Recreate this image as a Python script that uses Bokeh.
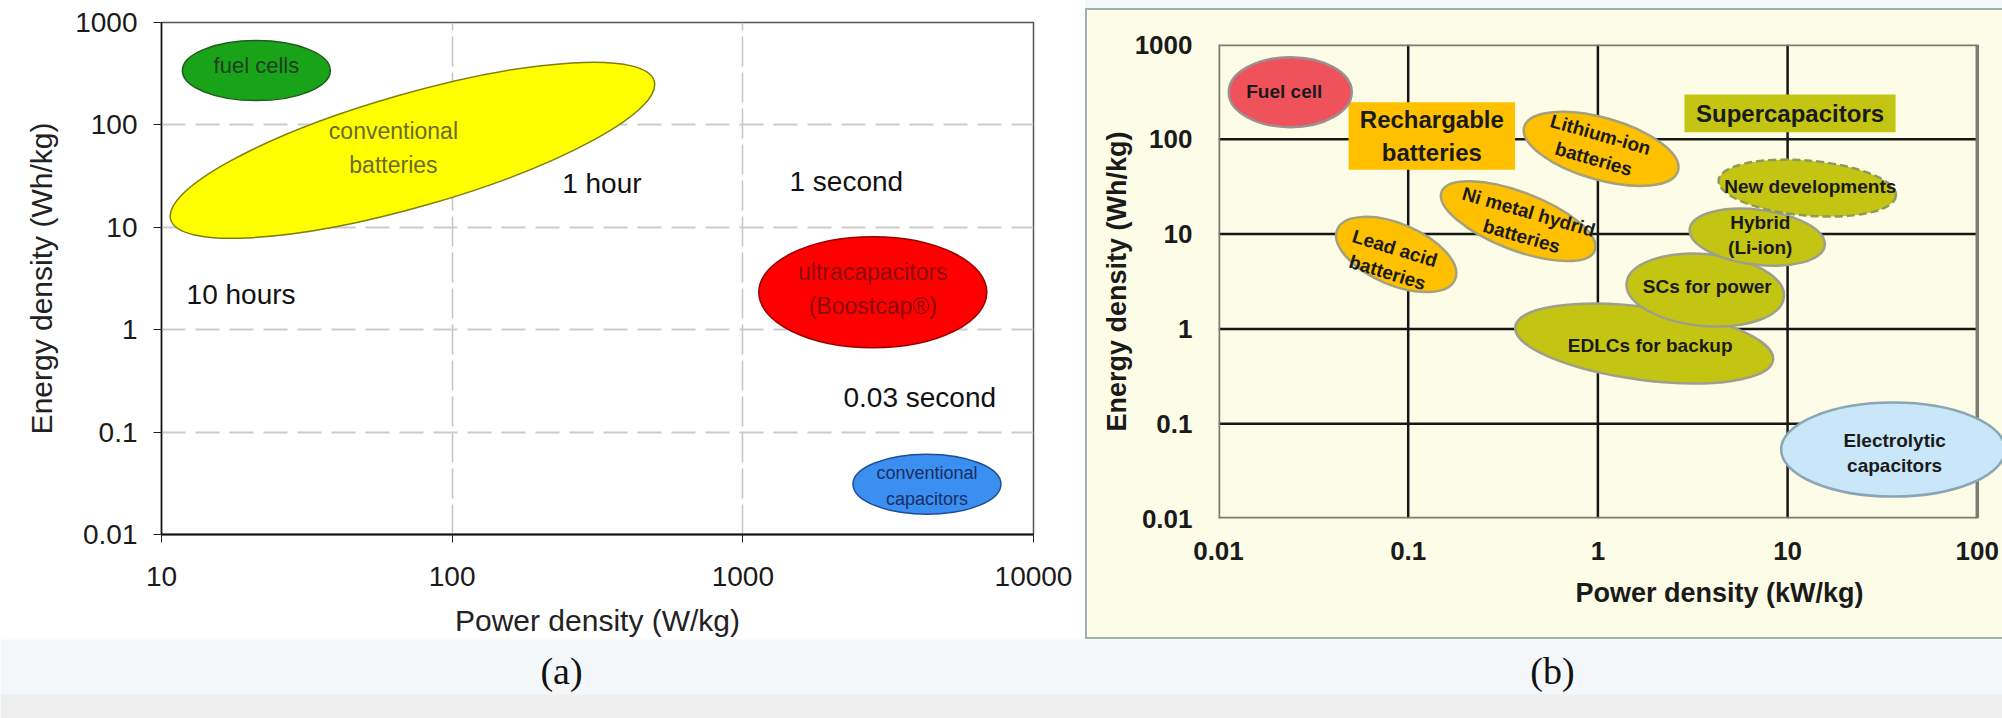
import math
from bokeh.plotting import figure
from bokeh.models import (ColumnDataSource, FixedTicker, NumeralTickFormatter, Label, Title,
                          Range1d, Spacer, CDSView, IndexFilter)
from bokeh.layouts import row, column
from bokeh.core.properties import value
from bokeh.embed import file_html
from bokeh.resources import INLINE

# ------------------------------------------------------------------ data (a)
a_x_ticks = [10, 100, 1000, 10000]
a_y_ticks = [0.01, 0.1, 1, 10, 100, 1000]
a_regions = ["fuel cells", "conventional\nbatteries", "ultracapacitors\n(Boostcap®)",
             "conventional\ncapacitors"]
a_power = [21.2, 73.0, 2800.0, 4300.0]          # W/kg, region centre
a_energy = [339.0, 56.5, 2.32, 0.031]           # Wh/kg, region centre
a_times = ["10 hours", "1 hour", "1 second", "0.03 second"]
a_time_power = [12.2, 239.0, 1447.0, 2220.0]
a_time_energy = [2.21, 26.9, 27.9, 0.22]

# ------------------------------------------------------------------ data (b)
b_x_ticks = [0.01, 0.1, 1, 10, 100]
b_y_ticks = [0.01, 0.1, 1, 10, 100, 1000]
b_regions = ["Fuel cell", "Lithium-ion\nbatteries", "Ni metal hydrid\nbatteries",
             "Lead acid\nbatteries", "EDLCs for backup", "SCs for power", "Hybrid\n(Li-ion)",
             "New developments", "Electrolytic\ncapacitors"]
b_power = [0.0239, 1.04, 0.380, 0.0864, 1.754, 3.68, 6.92, 12.7, 36.0]       # kW/kg
b_energy = [314.0, 79.4, 13.7, 6.10, 0.702, 2.57, 9.27, 30.6, 0.0534]       # Wh/kg
b_groups = ["Rechargable\nbatteries", "Supercapacitors"]
b_group_pmin = [0.0485, 2.86]
b_group_pmax = [0.366, 37.1]
b_group_emin = [47.6, 118.8]
b_group_emax = [246.0, 297.0]

# ------------------------------------------------------------------ styles
FONT = "Liberation Sans"
a_style = dict(
    w=[148, 503, 228, 148], h=[60, 113, 111, 60], ang=[0, 16, 0, 0],
    fill=["#19a319", "#ffff00", "#ff0000", "#3a8ff0"],
    line=["#1e5a1e", "#7f7f10", "#9a0000", "#1d4f94"],
    tcol=["#1f3f1f", "#6b6b2a", "#8a0c0c", "#1a2d66"],
    tsize=["22px", "23px", "23px", "18px"],
    dx=[0, -19, 0, 0], dy=[-5, -2, -3, 2],
)
ORANGE, OLIVE = "#ffc000", "#c4c412"
b_style = dict(
    w=[123, 160, 164, 128, 260, 158, 136, 178, 224],
    h=[70, 62, 58, 61, 73, 72, 55, 55, 94],
    ang=[0, -16, -21, -23, -7.4, -5, -7, -5, 0],
    tang=[0, -16, -16, -17, 0, 0, 0, 0, 0],
    fill=["#f0525c", ORANGE, ORANGE, ORANGE, OLIVE, OLIVE, OLIVE, OLIVE, "#c9e7f8"],
    line=["#9c8f8f", "#a3a27a", "#a3a27a", "#a3a27a", "#9ea08a", "#9ea08a", "#9ea08a",
          "#8e9a5e", "#8aa6b4"],
    dx=[-6, -4, 7, -5, 6, 2, 3, 3, 1.5], dy=[-1, -2, 3, 6, 2, -3.5, -2, -1.5, 3.7],
)
b_group_fill = [ORANGE, OLIVE]
PANEL_BG = "#fdfce7"
PANEL_BORDER = "#9db3aa"
PAGE_BG = "#f4f7fa"

# ================================================================== panel (a)
pA = figure(width=1085, height=639, x_axis_type="log", y_axis_type="log",
            x_range=Range1d(a_x_ticks[0], a_x_ticks[-1]),
            y_range=Range1d(a_y_ticks[0], a_y_ticks[-1]),
            output_backend="svg", toolbar_location=None,
            min_border_left=161, min_border_right=52, min_border_top=22, min_border_bottom=103,
            background_fill_color="white", border_fill_color="white")
pA.outline_line_color = "#555555"
pA.outline_line_width = 1.5
for ax, ticks in ((pA.xaxis, a_x_ticks), (pA.yaxis, a_y_ticks)):
    ax.ticker = FixedTicker(ticks=ticks)
    ax.formatter = NumeralTickFormatter(format="0.[00]")
    ax.minor_tick_line_color = None
    ax.major_tick_in = 0
    ax.major_tick_out = 8
    ax.major_tick_line_color = "#222222"
    ax.axis_line_color = "#111111"
    ax.axis_line_width = 1.5
    ax.major_label_text_font = FONT
    ax.major_label_text_font_size = "28px"
    ax.major_label_text_color = "#1a1a1a"
    ax.axis_label_text_font = FONT
    ax.axis_label_text_font_size = "30px"
    ax.axis_label_text_font_style = "normal"
    ax.axis_label_text_color = "#222222"
pA.xaxis.axis_line_width = 2
pA.xaxis.axis_label = "Power density (W/kg)"
pA.yaxis.axis_label = "Energy density (Wh/kg)"
pA.xaxis.major_label_standoff = 24
pA.xaxis.axis_label_standoff = 15
pA.yaxis.major_label_standoff = 16
pA.yaxis.axis_label_standoff = 14
pA.xgrid.grid_line_color = "#c4c4c4"
pA.xgrid.grid_line_dash = "30 6"
pA.xgrid.grid_line_width = 1.5
pA.ygrid.grid_line_color = "#cccccc"
pA.ygrid.grid_line_dash = "24 10"
pA.ygrid.grid_line_width = 2

srcA = ColumnDataSource(dict(x=a_power, y=a_energy, label=a_regions,
                             w=a_style["w"], h=a_style["h"],
                             ang=[math.radians(v) for v in a_style["ang"]],
                             fill=a_style["fill"], line=a_style["line"], tcol=a_style["tcol"],
                             tsize=a_style["tsize"], dx=a_style["dx"], dy=a_style["dy"]))
pA.ellipse(x="x", y="y", width="w", height="h", angle="ang", width_units="screen",
           height_units="screen", fill_color="fill", line_color="line", line_width=1.5,
           source=srcA)
pA.text(x="x", y="y", text="label", x_offset="dx", y_offset="dy", text_color="tcol",
        text_font=value(FONT), text_font_size="tsize", text_align="center",
        text_baseline="middle", text_line_height=1.3, source=srcA)

srcT = ColumnDataSource(dict(x=a_time_power, y=a_time_energy, label=a_times))
pA.text(x="x", y="y", text="label", text_color="#111111", text_font=value(FONT),
        text_font_size="28px", text_align="left", text_baseline="middle", source=srcT)

# ================================================================== panel (b)
pB = figure(width=915, height=627, x_axis_type="log", y_axis_type="log",
            x_range=Range1d(b_x_ticks[0], 135.8),
            y_range=Range1d(b_y_ticks[0], b_y_ticks[-1]),
            output_backend="svg", toolbar_location=None,
            min_border_left=131, min_border_right=0, min_border_top=34, min_border_bottom=119,
            background_fill_color=PANEL_BG, border_fill_color=PANEL_BG)
pB.outline_line_color = None
pB.grid.visible = False
for ax, ticks in ((pB.xaxis, b_x_ticks), (pB.yaxis, b_y_ticks)):
    ax.ticker = FixedTicker(ticks=ticks)
    ax.formatter = NumeralTickFormatter(format="0.[00]")
    ax.minor_tick_line_color = None
    ax.major_tick_line_color = None
    ax.major_tick_in = 0
    ax.major_tick_out = 0
    ax.axis_line_color = None
    ax.major_label_text_font = FONT
    ax.major_label_text_font_size = "26px"
    ax.major_label_text_font_style = "bold"
    ax.major_label_text_color = "#1a1a1a"
    ax.axis_label_text_font = FONT
    ax.axis_label_text_font_size = "27px"
    ax.axis_label_text_font_style = "bold"
    ax.axis_label_text_color = "#1a1a1a"
pB.xaxis.major_label_standoff = 23
pB.yaxis.major_label_standoff = 26
pB.yaxis.axis_label = "Energy density (Wh/kg)"
pB.yaxis.axis_label_standoff = 0

# grid lines and frame, bounded to the decades of the chart
gx = b_x_ticks[1:-1]
gy = b_y_ticks[1:-1]
pB.segment(x0=gx, x1=gx, y0=[b_y_ticks[0]] * len(gx), y1=[b_y_ticks[-1]] * len(gx),
           line_color="#161616", line_width=2.5)
pB.segment(x0=[b_x_ticks[0]] * len(gy), x1=[b_x_ticks[-1]] * len(gy), y0=gy, y1=gy,
           line_color="#161616", line_width=2.5)
fx0 = [b_x_ticks[0], b_x_ticks[0], b_x_ticks[-1], b_x_ticks[0]]
fx1 = [b_x_ticks[0], b_x_ticks[-1], b_x_ticks[-1], b_x_ticks[-1]]
fy0 = [b_y_ticks[0], b_y_ticks[-1], b_y_ticks[0], b_y_ticks[0]]
fy1 = [b_y_ticks[-1], b_y_ticks[-1], b_y_ticks[-1], b_y_ticks[0]]
pB.segment(x0=fx0, x1=fx1, y0=fy0, y1=fy1, line_color="#7c7c72", line_width=3.5)

srcG = ColumnDataSource(dict(left=b_group_pmin, right=b_group_pmax, bottom=b_group_emin,
                             top=b_group_emax, fill=b_group_fill, label=b_groups,
                             xc=[math.sqrt(a * b) for a, b in zip(b_group_pmin, b_group_pmax)],
                             yc=[math.sqrt(a * b) for a, b in zip(b_group_emin, b_group_emax)]))
pB.quad(left="left", right="right", bottom="bottom", top="top", fill_color="fill",
        line_color=None, source=srcG)
pB.text(x="xc", y="yc", text="label", text_color="#1a1a1a", text_font=value(FONT),
        text_font_size="24px", text_font_style="bold", text_align="center",
        text_baseline="middle", text_line_height=1.2, source=srcG)

srcB = ColumnDataSource(dict(x=b_power, y=b_energy, label=b_regions,
                             w=b_style["w"], h=b_style["h"],
                             ang=[math.radians(v) for v in b_style["ang"]],
                             tang=[math.radians(v) for v in b_style["tang"]],
                             fill=b_style["fill"], line=b_style["line"],
                             dx=b_style["dx"], dy=b_style["dy"]))
dashed = [b_regions.index("New developments")]
solid = [i for i in range(len(b_regions)) if i not in dashed]
pB.ellipse(x="x", y="y", width="w", height="h", angle="ang", width_units="screen",
           height_units="screen", fill_color="fill", line_color="line", line_width=2.5,
           source=srcB, view=CDSView(filter=IndexFilter(solid)))
pB.ellipse(x="x", y="y", width="w", height="h", angle="ang", width_units="screen",
           height_units="screen", fill_color="fill", line_color="line", line_width=2.5,
           line_dash="8 4", source=srcB, view=CDSView(filter=IndexFilter(dashed)))
pB.text(x="x", y="y", text="label", angle="tang", x_offset="dx", y_offset="dy",
        text_color="#1a1a1a", text_font=value(FONT), text_font_size="19px",
        text_font_style="bold", text_align="center", text_baseline="middle",
        text_line_height=1.2, source=srcB)

# x-axis title of (b) sits right of the frame centre in the original
pB.add_layout(Title(text="Power density (kW/kg)", align="left", offset=357, standoff=26,
                    text_font=FONT, text_font_size="27px", text_font_style="bold",
                    text_color="#1a1a1a"), "below")

# ================================================================== captions strip
pC = figure(width=2002, height=79, x_range=Range1d(0, 2002), y_range=Range1d(0, 79),
            output_backend="svg", toolbar_location=None, x_axis_location=None,
            y_axis_location=None, min_border=0, background_fill_color=PAGE_BG,
            border_fill_color=PAGE_BG)
pC.outline_line_color = None
pC.grid.visible = False
pC.quad(left=[0], right=[2002], bottom=[0], top=[24], fill_color="#efefef", line_color=None)
for txt, xpos in (("(a)", 561), ("(b)", 1552)):
    pC.add_layout(Label(x=xpos, y=48, x_units="screen", y_units="screen", text=txt,
                        text_font="Liberation Serif", text_font_size="38px",
                        text_color="#111111", text_align="center", text_baseline="middle"))

# ================================================================== layout
sp_gap = Spacer(width=917, height=8, styles={"background-color": PAGE_BG})
sp_left = Spacer(width=2, height=631, styles={"background-color": PANEL_BORDER})
sp_top = Spacer(width=915, height=2, styles={"background-color": PANEL_BORDER})
sp_bot = Spacer(width=915, height=2, styles={"background-color": PANEL_BORDER})
right_block = column(sp_gap, row(sp_left, column(sp_top, pB, sp_bot)))
layout = column(row(pA, right_block), pC)

html = file_html(layout, INLINE, title="Ragone plots")
html = html.replace("<body>", '<body style="background-color:%s;">' % PAGE_BG, 1)
open("out.html", "w").write(html)
